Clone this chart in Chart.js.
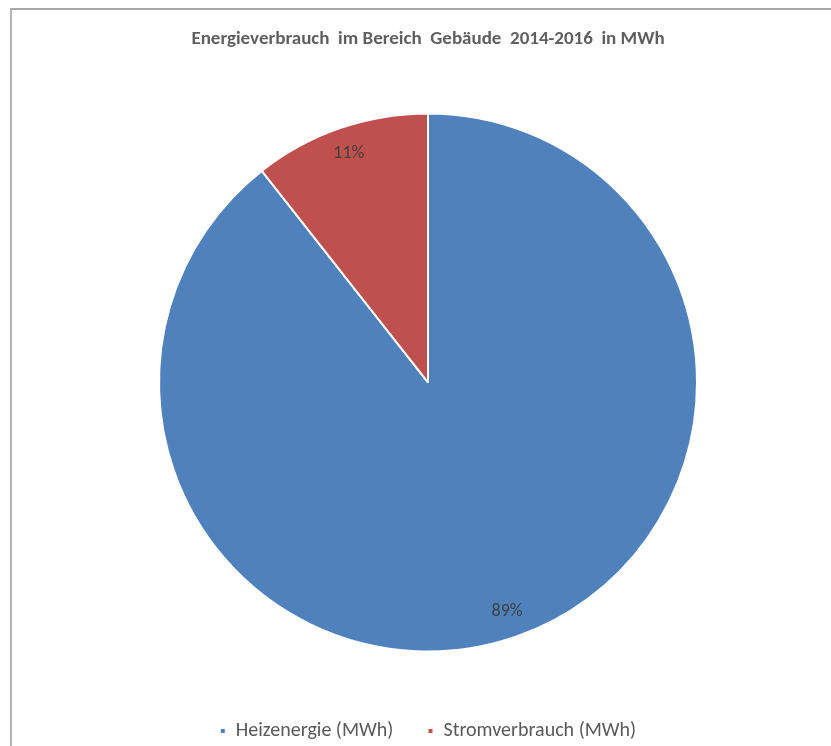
<!DOCTYPE html>
<html>
<head>
<meta charset="utf-8">
<script src="https://cdn.jsdelivr.net/npm/chart.js@4/dist/chart.umd.min.js"></script>
<style>
  html, body { margin: 0; padding: 0; background: #ffffff; overflow: hidden; }
  #wrap { position: relative; width: 831px; height: 746px; }
  #frame { position: absolute; left: 10px; top: 8px; width: 840px; height: 760px;
           border-top: 2px solid #a8a8a8; border-left: 2px solid #b4b4b4; box-sizing: border-box; }
  canvas { position: absolute; left: 0; top: 0; }
</style>
</head>
<body>
<div id="wrap">
  <div id="frame"></div>
  <canvas id="c" width="831" height="746"></canvas>
</div>
<script>
const categories = ['Heizenergie (MWh)', 'Stromverbrauch (MWh)'];
const shares = [89.4, 10.6];
const sliceColors = ['#4F81BD', '#C0504D'];
const chartTitle = 'Energieverbrauch  im Bereich  Gebäude  2014-2016  in MWh';
const FONT = "Carlito, 'Open Sans', 'Liberation Sans', sans-serif";

// Percentage labels placed near the outer edge of each slice
const sliceLabels = {
  id: 'sliceLabels',
  afterDatasetsDraw(chart) {
    const meta = chart.getDatasetMeta(0);
    const data = chart.data.datasets[0].data;
    const total = data.reduce((a, b) => a + b, 0);
    const ctx = chart.ctx;
    ctx.save();
    ctx.font = '18px ' + FONT;
    ctx.fillStyle = '#404040';
    ctx.textAlign = 'center';
    ctx.textBaseline = 'middle';
    meta.data.forEach((arc, i) => {
      const p = arc.getProps(['x', 'y', 'startAngle', 'endAngle', 'outerRadius'], true);
      const mid = (p.startAngle + p.endAngle) / 2;
      const r = p.outerRadius * 0.9;
      const pct = Math.round(data[i] / total * 100) + '%';
      ctx.fillText(pct, p.x + Math.cos(mid) * r, p.y + Math.sin(mid) * r);
    });
    ctx.restore();
  }
};

new Chart(document.getElementById('c'), {
  type: 'pie',
  data: {
    labels: categories,
    datasets: [{
      data: shares,
      backgroundColor: sliceColors,
      borderColor: '#ffffff',
      borderWidth: 2,
      radius: 269
    }]
  },
  options: {
    responsive: false,
    animation: false,
    layout: { padding: { left: 25, right: 0, top: 0, bottom: -5 } },
    plugins: {
      title: {
        display: true,
        text: chartTitle,
        color: '#5f5f5f',
        font: { family: FONT, size: 19, weight: 'bold' },
        padding: { top: 28, bottom: 0 }
      },
      legend: {
        display: true,
        position: 'bottom',
        labels: {
          color: '#595959',
          font: { family: FONT, size: 20 },
          boxWidth: 6,
          boxHeight: 6,
          padding: 7,
          // extra trailing room after all but the last entry
          generateLabels(chart) {
            const items = Chart.overrides.pie.plugins.legend.labels.generateLabels(chart);
            items.forEach((it, i) => { if (i < items.length - 1) it.text += '      '; });
            return items;
          }
        }
      },
      tooltip: { enabled: false }
    }
  },
  plugins: [sliceLabels]
});
</script>
</body>
</html>
